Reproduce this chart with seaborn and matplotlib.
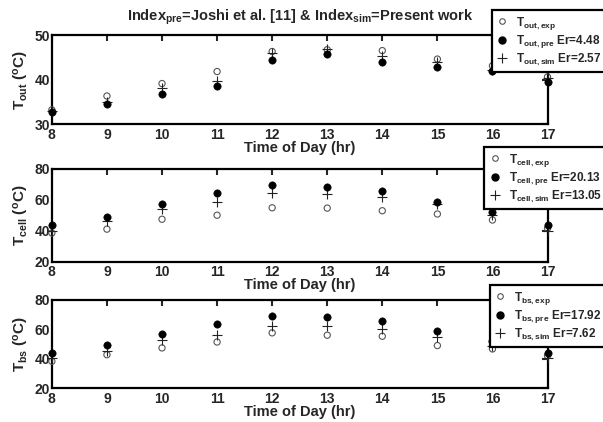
import matplotlib
matplotlib.use("Agg")
import matplotlib.pyplot as plt
from matplotlib.lines import Line2D
import seaborn as sns

# hours of day
hours = [8, 9, 10, 11, 12, 13, 14, 15, 16, 17]

# outlet temperature
t_out_exp = [33.2, 36.3, 39.1, 41.8, 46.3, 46.7, 46.5, 44.6, 43.1, 40.6]
t_out_pre = [32.6, 34.4, 36.8, 38.6, 44.5, 45.7, 43.9, 42.8, 41.9, 39.5]
t_out_sim = [33.0, 35.0, 38.0, 39.7, 45.9, 46.9, 45.2, 44.0, 42.2, 40.3]

# cell temperature
t_cell_exp = [38.5, 41.0, 47.4, 50.0, 54.8, 54.6, 52.9, 50.8, 46.9, 41.5]
t_cell_pre = [43.6, 49.0, 57.5, 64.6, 69.7, 68.4, 65.7, 58.5, 52.0, 43.6]
t_cell_sim = [40.0, 46.0, 53.7, 58.7, 64.2, 63.8, 61.7, 57.0, 50.3, 40.0]

# back surface temperature
t_bs_exp = [38.2, 42.7, 47.3, 51.3, 57.5, 55.9, 55.2, 48.9, 46.6, 42.0]
t_bs_pre = [43.8, 49.5, 57.0, 63.8, 69.2, 68.0, 65.8, 58.6, 52.3, 43.8]
t_bs_sim = [40.5, 45.0, 52.5, 56.1, 62.0, 62.0, 60.2, 54.8, 48.9, 40.5]

panels = [
    ("out", t_out_exp, t_out_pre, t_out_sim, "4.48", "2.57", (30, 50), [30, 40, 50]),
    ("cell", t_cell_exp, t_cell_pre, t_cell_sim, "20.13", "13.05", (20, 80), [20, 40, 60, 80]),
    ("bs", t_bs_exp, t_bs_pre, t_bs_sim, "17.92", "7.62", (20, 80), [20, 40, 60, 80]),
]

sns.set_style("white")
plt.rcParams["font.family"] = ["Liberation Sans", "DejaVu Sans"]
plt.rcParams["font.weight"] = "bold"
plt.rcParams["mathtext.fontset"] = "custom"
plt.rcParams["mathtext.rm"] = "Liberation Sans:bold"
plt.rcParams["mathtext.default"] = "rm"

fig = plt.figure(figsize=(6.03, 4.22), dpi=100)

# axes rectangles (left, bottom, width, height) in figure fraction
rects = [
    (0.086, 0.706, 0.822, 0.211),
    (0.086, 0.380, 0.822, 0.220),
    (0.086, 0.080, 0.822, 0.210),
]
legend_tops = [1 - 10 / 422, 1 - 147 / 422, 1 - 285 / 422]

for (name, exp, pre, sim, er_pre, er_sim, ylim, yticks), rect, ltop in zip(panels, rects, legend_tops):
    ax = fig.add_axes(rect)
    sns.scatterplot(x=hours, y=exp, ax=ax, marker="o", s=20, facecolors="none",
                    edgecolor="#555555", linewidth=0.8, clip_on=False, zorder=3)
    sns.scatterplot(x=hours, y=sim, ax=ax, marker="+", s=50, color="#222222",
                    linewidth=0.8, clip_on=False, zorder=4)
    sns.scatterplot(x=hours, y=pre, ax=ax, marker="o", s=28, color="black",
                    edgecolor="black", clip_on=False, zorder=5)
    ax.set_xlim(8, 17)
    ax.set_ylim(*ylim)
    ax.set_xticks(hours)
    ax.set_yticks(yticks)
    ax.tick_params(direction="in", length=4, width=1.5, top=True, right=True,
                   labelsize=10)
    ax.tick_params(axis="x", pad=2.5)
    ax.tick_params(axis="y", pad=1.5)
    for lbl in ax.get_xticklabels() + ax.get_yticklabels():
        lbl.set_fontweight("bold")
    for sp in ax.spines.values():
        sp.set_linewidth(1.6)
        sp.set_color("black")
    ax.set_xlabel("Time of Day (hr)", fontsize=10.5, fontweight="bold", labelpad=-0.5)
    ax.set_ylabel("T$_{%s}$ ($^{o}$C)" % name, fontsize=11, fontweight="bold", labelpad=2)

    handles = [
        Line2D([], [], ls="none", marker="o", mfc="none", mec="#555555", ms=4, mew=0.8),
        Line2D([], [], ls="none", marker="o", mfc="black", mec="black", ms=5),
        Line2D([], [], ls="none", marker="+", color="#222222", ms=6.5, mew=0.8),
    ]
    labels = [
        "T$_{%s,exp}$" % name,
        "T$_{%s,pre}$ Er=%s" % (name, er_pre),
        "T$_{%s,sim}$ Er=%s" % (name, er_sim),
    ]
    leg = fig.legend(handles, labels, loc="upper right", bbox_to_anchor=(1.006, ltop),
                     fontsize=8.5, frameon=True, fancybox=False, framealpha=1,
                     handlelength=1.0, handletextpad=0.7, labelspacing=0.12,
                     borderpad=0.4, borderaxespad=0, edgecolor="black")
    leg.get_frame().set_linewidth(1.6)
    leg.set_zorder(10)

fig.text(0.497, 0.958, "Index$_{pre}$=Joshi et al. [11] & Index$_{sim}$=Present work",
         ha="center", va="center", fontsize=10.5, fontweight="bold")

fig.savefig("out.png", dpi=100)
